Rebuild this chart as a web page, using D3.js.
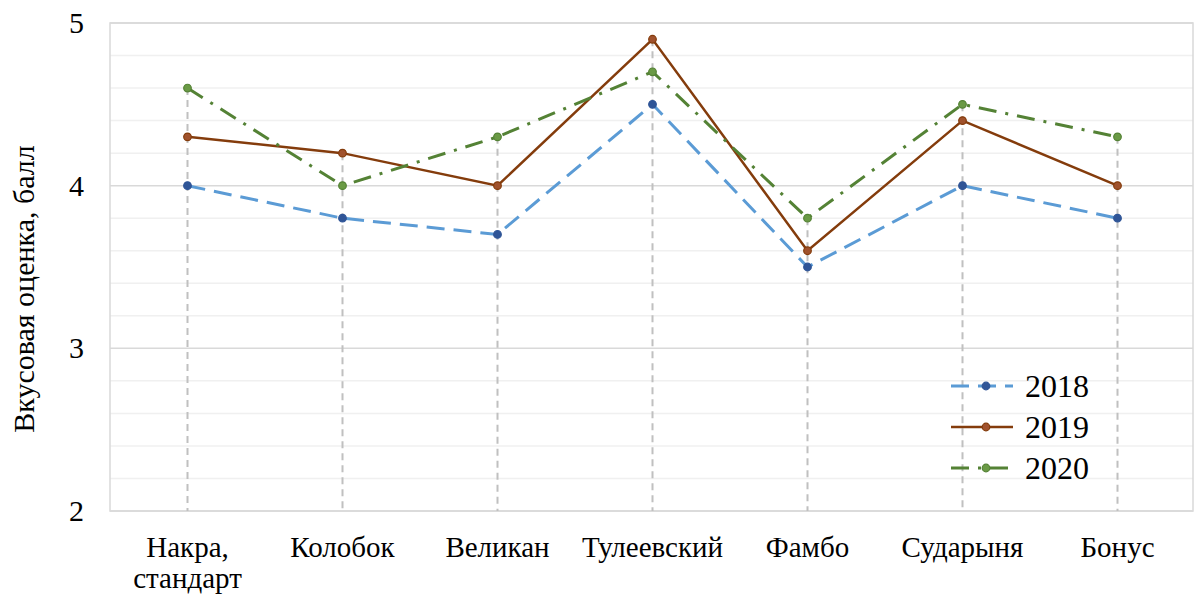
<!DOCTYPE html>
<html><head><meta charset="utf-8">
<script src="https://cdn.jsdelivr.net/npm/d3@7"></script>
<style>body{margin:0;background:#fff}</style>
</head><body>
<svg id="c" width="1195" height="595"></svg>
<script>
const categories = [["Накра,","стандарт"],["Колобок"],["Великан"],["Тулеевский"],["Фамбо"],["Сударыня"],["Бонус"]];
const series2018 = [4.0, 3.8, 3.7, 4.5, 3.5, 4.0, 3.8];
const series2019 = [4.3, 4.2, 4.0, 4.9, 3.6, 4.4, 4.0];
const series2020 = [4.6, 4.0, 4.3, 4.7, 3.8, 4.5, 4.3];
const yTicks = [2, 3, 4, 5];
const seriesNames = ["2018", "2019", "2020"];

const svg = d3.select("#c");
const font = "'Liberation Serif','Times New Roman',serif";
const L = 110, R = 1193, T = 23, B = 511;
const x = d3.scaleBand().domain(d3.range(categories.length)).range([L, R + 2]);
const y = d3.scaleLinear().domain([2, 5]).range([B, T]);

const minor = d3.range(2, 5.001, 0.2).filter(v => Math.abs(v - Math.round(v)) > 1e-6);
svg.append("g").selectAll("line").data(minor).join("line")
  .attr("x1", L).attr("x2", R).attr("y1", d => y(d)).attr("y2", d => y(d))
  .attr("stroke", "#f0f0f0").attr("stroke-width", 1.5);
svg.append("g").selectAll("line").data(yTicks).join("line")
  .attr("x1", L).attr("x2", R).attr("y1", d => y(d)).attr("y2", d => y(d))
  .attr("stroke", "#d9d9d9").attr("stroke-width", 1.5);
svg.append("rect").attr("x", L).attr("y", T).attr("width", R - L).attr("height", B - T)
  .attr("fill", "none").attr("stroke", "#d9d9d9").attr("stroke-width", 1.5);

const cx = i => x(i) + x.bandwidth() / 2;
const all = [series2018, series2019, series2020];
svg.append("g").selectAll("line").data(categories).join("line")
  .attr("x1", (d, i) => cx(i)).attr("x2", (d, i) => cx(i))
  .attr("y1", (d, i) => y(d3.max(all, s => s[i]))).attr("y2", B)
  .attr("stroke", "#c0c0c0").attr("stroke-width", 2).attr("stroke-dasharray", "7,5");

const styles = [
  {line: "#5b9bd5", mark: "#2f5597", dash: "18,9", w: 3, fill: "#2f5597"},
  {line: "#843c0c", mark: "#843c0c", dash: null, w: 2.5, fill: "#a0522d"},
  {line: "#548235", mark: "#548235", dash: "18,9,3,9", w: 3, fill: "#6a9a45"}
];
const lineGen = d3.line().x((d, i) => cx(i)).y(d => y(d));
all.forEach((s, k) => {
  const st = styles[k];
  svg.append("path").attr("d", lineGen(s)).attr("fill", "none")
    .attr("stroke", st.line).attr("stroke-width", st.w)
    .attr("stroke-dasharray", st.dash);
  svg.append("g").selectAll("circle").data(s).join("circle")
    .attr("cx", (d, i) => cx(i)).attr("cy", d => y(d)).attr("r", 3.8)
    .attr("fill", st.fill).attr("stroke", st.mark).attr("stroke-width", 1.2);
});

svg.append("g").selectAll("text").data(yTicks).join("text")
  .attr("x", 84).attr("y", d => y(d) + 10).attr("text-anchor", "end")
  .attr("font-family", font).attr("font-size", 30).text(d => d);
svg.append("text").attr("transform", `translate(34,${(T + B) / 2 + 22}) rotate(-90)`)
  .attr("text-anchor", "middle").attr("font-family", font).attr("font-size", 30)
  .text("Вкусовая оценка, балл");

const xl = svg.append("g").selectAll("text").data(categories).join("text")
  .attr("text-anchor", "middle").attr("font-family", font).attr("font-size", 29)
  .attr("x", (d, i) => cx(i)).attr("y", 557);
xl.selectAll("tspan").data(d => d).join("tspan")
  .attr("x", function() { return this.parentNode.getAttribute("x"); })
  .attr("dy", (d, j) => j === 0 ? 0 : 31).text(d => d);

const lg = svg.append("g");
seriesNames.forEach((n, k) => {
  const st = styles[k];
  const yy = 386 + k * 41;
  lg.append("line").attr("x1", 951).attr("x2", 1013).attr("y1", yy).attr("y2", yy)
    .attr("stroke", st.line).attr("stroke-width", st.w)
    .attr("stroke-dasharray", k === 0 ? "18,9" : (k === 2 ? "18,9,3,9" : null));
  lg.append("circle").attr("cx", 986).attr("cy", yy).attr("r", 3.8)
    .attr("fill", st.fill).attr("stroke", st.mark).attr("stroke-width", 1.2);
  lg.append("text").attr("x", 1025).attr("y", yy + 11).attr("font-family", font)
    .attr("font-size", 32).text(n);
});
</script>
</body></html>
